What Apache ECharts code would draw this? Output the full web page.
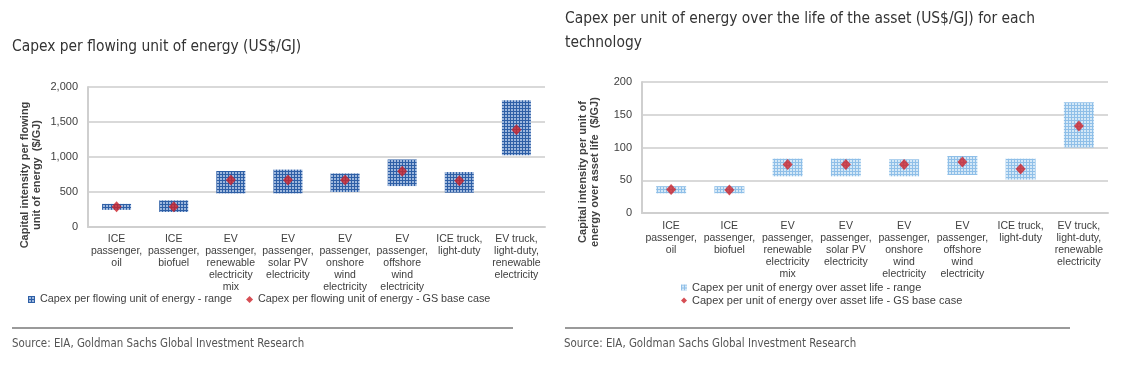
<!DOCTYPE html>
<html>
<head>
<meta charset="utf-8">
<script src="https://cdn.jsdelivr.net/npm/echarts@6/dist/echarts.min.js"></script>
<style>html,body{margin:0;padding:0;background:#fff;}#c{width:1128px;height:380px;}</style>
</head>
<body>
<div id="c"></div>
<script>
// ---- data ----
var categoriesLeft = ['ICE\npassenger,\noil', 'ICE\npassenger,\nbiofuel', 'EV\npassenger,\nrenewable\nelectricity\nmix', 'EV\npassenger,\nsolar PV\nelectricity', 'EV\npassenger,\nonshore\nwind\nelectricity', 'EV\npassenger,\noffshore\nwind\nelectricity', 'ICE truck,\nlight-duty', 'EV truck,\nlight-duty,\nrenewable\nelectricity'];
var categoriesRight = categoriesLeft;
var flowLow  = [245, 215, 480, 480, 500, 585, 490, 1025];
var flowHigh = [330, 380, 800, 820, 765, 965, 785, 1810];
var flowBase = [290, 290, 670, 670, 670, 795, 660, 1390];
var lifeLow  = [30, 30, 56, 56, 56, 58, 51, 100];
var lifeHigh = [41, 41, 83, 83, 82, 87, 83, 169];
var lifeBase = [36, 35, 74, 74, 74, 78, 67, 133];
var leftTicks = [0, 500, 1000, 1500, 2000];
var rightTicks = [0, 50, 100, 150, 200];

function makePattern(bg, dot) {
  var c = document.createElement('canvas');
  c.width = 3; c.height = 3;
  var g = c.getContext('2d');
  g.fillStyle = bg; g.fillRect(0, 0, 3, 3);
  g.fillStyle = dot; g.fillRect(1, 1, 2, 2);
  return c;
}
var darkPat = { image: makePattern('#2e5fa6', '#9db7dd'), repeat: 'repeat' };
var lightPat = { image: makePattern('#8fbfe8', '#d4e8f7'), repeat: 'repeat' };

function diff(h, l) { return h.map(function (v, i) { return v - l[i]; }); }

var txt = '#404040';
var narrow = '"Liberation Sans Narrow","DejaVu Sans Condensed",sans-serif';
var base = 'Arial,"Liberation Sans",sans-serif';

var chart = echarts.init(document.getElementById('c'), null, { renderer: 'canvas' });
chart.setOption({
  animation: false,
  textStyle: { fontFamily: base },
  title: [
    { text: 'Capex per flowing unit of energy (US$/GJ)', left: 12, top: 39, padding: 0,
      textStyle: { fontFamily: narrow, fontSize: 15.4, fontWeight: 'normal', color: '#333', lineHeight: 16 } },
    { text: 'Capex per unit of energy over the life of the asset (US$/GJ) for each\ntechnology', left: 565, top: 7, padding: 0,
      textStyle: { fontFamily: narrow, fontSize: 15.4, fontWeight: 'normal', color: '#333', lineHeight: 24 } }
  ],
  grid: [
    { left: 88, right: 583, top: 87, bottom: 153 },
    { left: 642, right: 20, top: 82, bottom: 167 }
  ],
  xAxis: [0, 1].map(function (i) {
    return {
      type: 'category', gridIndex: i, data: i === 0 ? categoriesLeft : categoriesRight,
      axisLine: { lineStyle: { color: '#cfcfcf', width: 2 } },
      axisTick: { show: false },
      axisLabel: { interval: 0, color: txt, fontSize: 10.5, lineHeight: 12, margin: i === 0 ? 6 : 7, verticalAlign: 'top' }
    };
  }),
  yAxis: [0, 1].map(function (i) {
    var t = i === 0 ? leftTicks : rightTicks;
    return {
      type: 'value', gridIndex: i, min: t[0], max: t[t.length - 1], interval: t[1] - t[0],
      axisLine: { show: true, lineStyle: { color: '#cfcfcf', width: 2 } },
      axisTick: { show: false },
      splitLine: { lineStyle: { color: '#d9d9d9', width: 2 } },
      axisLabel: { color: txt, fontSize: 11, margin: 10,
        formatter: function (v) { return v.toLocaleString('en-US'); } }
    };
  }),
  legend: [
    { left: 23, top: 289, itemWidth: 7, itemHeight: 7, itemGap: 14, textStyle: { fontSize: 10.8, color: txt },
      data: [ { name: 'Capex per flowing unit of energy - range', icon: 'rect' },
              { name: 'Capex per flowing unit of energy - GS base case', icon: 'diamond' } ] },
    { left: 676, top: 277, orient: 'vertical', itemWidth: 6, itemHeight: 6, itemGap: 2, textStyle: { fontSize: 11, color: txt },
      data: [ { name: 'Capex per unit of energy over asset life - range', icon: 'rect' },
              { name: 'Capex per unit of energy over asset life - GS base case', icon: 'diamond' } ] }
  ],
  graphic: [
    { type: 'text', x: 31, y: 175, rotation: Math.PI / 2, style: { text: 'Capital intensity per flowing\nunit of energy  ($/GJ)', fontSize: 11, fontWeight: 'bold', fill: txt, align: 'center', verticalAlign: 'middle', lineHeight: 12, fontFamily: base } },
    { type: 'text', x: 589, y: 172, rotation: Math.PI / 2, style: { text: 'Capital intensity per unit of\nenergy over asset life  ($/GJ)', fontSize: 11, fontWeight: 'bold', fill: txt, align: 'center', verticalAlign: 'middle', lineHeight: 12, fontFamily: base } },
    { type: 'line', shape: { x1: 12, y1: 328, x2: 513, y2: 328 }, style: { stroke: '#9a9a9a', lineWidth: 2 } },
    { type: 'line', shape: { x1: 565, y1: 328, x2: 1070, y2: 328 }, style: { stroke: '#9a9a9a', lineWidth: 2 } },
    { type: 'text', x: 12, y: 339, style: { text: 'Source: EIA, Goldman Sachs Global Investment Research', fontSize: 11.4, fill: '#555', fontFamily: narrow } },
    { type: 'text', x: 564, y: 339, style: { text: 'Source: EIA, Goldman Sachs Global Investment Research', fontSize: 11.4, fill: '#555', fontFamily: narrow } }
  ],
  series: [
    { type: 'bar', xAxisIndex: 0, yAxisIndex: 0, stack: 'L', data: flowLow, barWidth: 29, itemStyle: { color: 'transparent' }, silent: true },
    { name: 'Capex per flowing unit of energy - range', type: 'bar', xAxisIndex: 0, yAxisIndex: 0, stack: 'L', data: diff(flowHigh, flowLow), barWidth: 29, itemStyle: { color: darkPat } },
    { name: 'Capex per flowing unit of energy - GS base case', type: 'scatter', xAxisIndex: 0, yAxisIndex: 0, data: flowBase, symbol: 'diamond', symbolSize: [10, 11], itemStyle: { color: '#cc2229' }, z: 5 },
    { type: 'bar', xAxisIndex: 1, yAxisIndex: 1, stack: 'R', data: lifeLow, barWidth: 30, itemStyle: { color: 'transparent' }, silent: true },
    { name: 'Capex per unit of energy over asset life - range', type: 'bar', xAxisIndex: 1, yAxisIndex: 1, stack: 'R', data: diff(lifeHigh, lifeLow), barWidth: 30, itemStyle: { color: lightPat } },
    { name: 'Capex per unit of energy over asset life - GS base case', type: 'scatter', xAxisIndex: 1, yAxisIndex: 1, data: lifeBase, symbol: 'diamond', symbolSize: [10, 11], itemStyle: { color: '#cc2229' }, z: 5 }
  ]
});
</script>
</body>
</html>
